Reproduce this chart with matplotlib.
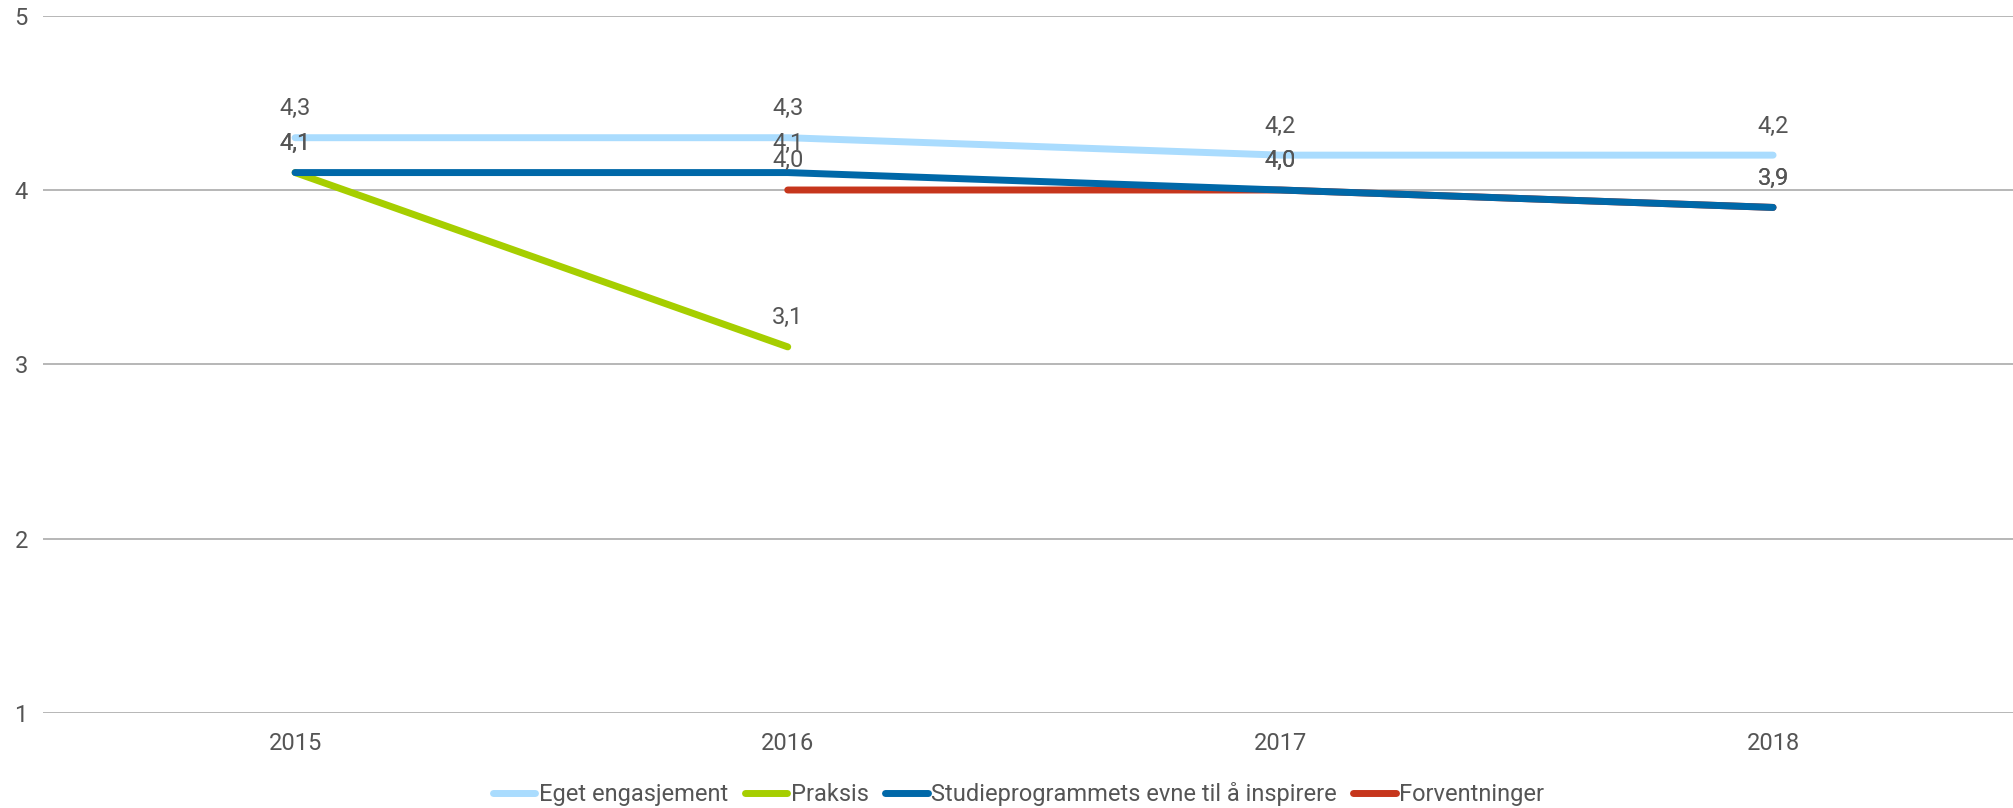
import numpy as np
import matplotlib.pyplot as plt

plt.rcParams['font.family'] = ['Roboto', 'DejaVu Sans']

years = ['2015', '2016', '2017', '2018']
eget = [4.3, 4.3, 4.2, 4.2]
praksis = [4.1, 3.1, np.nan, np.nan]
studie = [4.1, 4.1, 4.0, 3.9]
forventninger = [np.nan, 4.0, 4.0, 3.9]

series = [
    ('Eget engasjement', eget, '#aadcfe', 3),
    ('Praksis', praksis, '#a6ce00', 3),
    ('Studieprogrammets evne til å inspirere', studie, '#0068a8', 4),
    ('Forventninger', forventninger, '#c6361c', 2),
]

text_color = '#555555'

fig = plt.figure(figsize=(20.13, 8.08), dpi=100)
ax = fig.add_axes([0.0214, 0.1176, 0.9786, 0.863])

x = np.arange(len(years))
handles = []
for name, vals, color, z in series:
    line, = ax.plot(x, vals, color=color, lw=5, solid_capstyle='round',
                    solid_joinstyle='round', zorder=z, label=name)
    handles.append(line)
    for xi, v in zip(x, vals):
        if np.isnan(v):
            continue
        ax.annotate(f'{v:.1f}'.replace('.', ','), (xi, v), xytext=(0, 21),
                    textcoords='offset points', ha='center', va='center',
                    fontsize=17, color=text_color, zorder=10)

ax.set_xlim(-0.5115, 3.487)
ax.set_ylim(1, 5)
ax.set_yticks([1, 2, 3, 4, 5])
ax.set_xticks(x)
ax.set_xticklabels(years)
ax.grid(axis='y', color='#aaaaaa', lw=1.2)
ax.set_axisbelow(True)
for s in ax.spines.values():
    s.set_visible(False)
ax.tick_params(axis='both', length=0, labelsize=17, labelcolor=text_color)
ax.tick_params(axis='y', pad=11)
ax.tick_params(axis='x', pad=14)

fig.legend(handles=handles, loc='center', bbox_to_anchor=(0.506, 0.017),
           ncol=4, frameon=False, fontsize=17, labelcolor=text_color,
           handlelength=1.8, handletextpad=0.15, columnspacing=0.7)

fig.savefig('out.png', dpi=100)
